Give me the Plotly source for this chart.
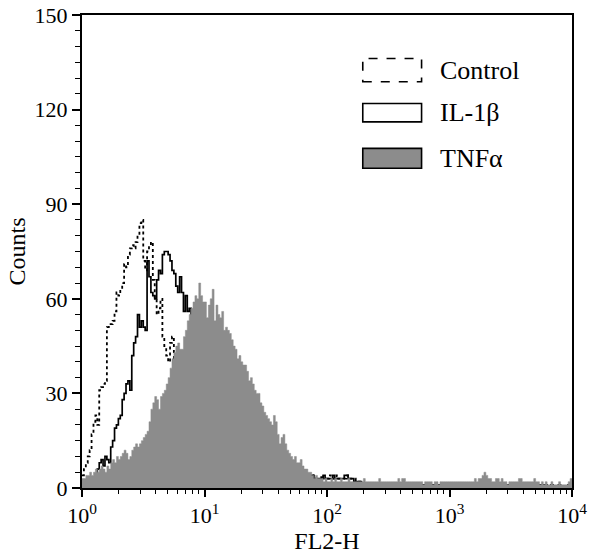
import numpy as np
import plotly.graph_objects as go

# FL2-H log channels (256 channels over 4 decades)
n_channels = 256
channels_per_decade = 64

control = [
    4, 6, 8, 10, 12, 17, 21, 23, 20, 31, 32, 33, 34, 51, 52, 52,
    53, 56, 62, 61, 63, 65, 71, 70, 74, 76, 77, 76, 78, 80, 84, 85,
    72, 69, 75, 77, 78, 66, 60, 55, 57, 60, 48, 45, 42, 40, 46, 48,
    38, 34, 30, 28, 26, 24, 22, 20, 19, 17, 16, 15, 14, 13, 12, 11,
    10, 10, 9, 9, 8, 8, 7, 7, 7, 6, 6, 6, 6, 5, 5, 5,
    5, 5, 4, 4, 4, 4, 4, 4, 4, 4, 4, 4, 4, 3, 3, 3,
    3, 3, 3, 3, 3, 3, 3, 3, 3, 3, 3, 3, 3, 3, 3, 3,
    3, 3, 3, 4, 3, 3, 4, 3, 3, 4, 3, 3, 3, 4, 3, 3,
    3, 4, 3, 3, 3, 4, 3, 3, 3, 3, 4, 3, 3, 3, 3, 2,
    2, 2, 2, 1, 1, 1, 1, 1, 1, 1, 1, 1, 1, 1, 1, 1,
    1, 1, 1, 0, 1, 1, 1, 1, 1, 1, 0, 1, 1, 1, 1, 1,
    1, 1, 0, 1, 1, 1, 1, 0, 1, 1, 0, 1, 1, 1, 1, 1,
    1, 1, 1, 1, 1, 1, 1, 1, 1, 1, 1, 1, 1, 1, 1, 1,
    1, 1, 1, 1, 1, 1, 1, 1, 1, 1, 1, 1, 1, 1, 0, 1,
    1, 1, 1, 1, 1, 1, 1, 1, 1, 1, 1, 1, 1, 1, 1, 0,
    1, 0, 1, 0, 0, 1, 0, 0, 0, 1, 0, 0, 0, 0, 1, 1,
]

il1b = [
    0, 0, 1, 1, 2, 2, 3, 4, 6, 8, 9, 7, 10, 9, 8, 13,
    15, 19, 20, 22, 23, 28, 30, 33, 34, 31, 42, 46, 48, 55, 51, 53,
    51, 50, 72, 67, 62, 61, 60, 66, 69, 68, 74, 75, 75, 74, 72, 69,
    68, 64, 62, 67, 62, 56, 61, 56, 57, 52, 47, 42, 38, 34, 30, 27,
    24, 21, 19, 17, 15, 14, 12, 11, 10, 9, 9, 8, 8, 7, 7, 6,
    6, 6, 5, 5, 5, 5, 5, 5, 4, 4, 4, 4, 4, 4, 4, 4,
    4, 4, 4, 4, 4, 4, 4, 4, 4, 4, 4, 4, 4, 4, 4, 4,
    4, 4, 3, 3, 4, 3, 3, 3, 4, 3, 3, 3, 3, 3, 4, 3,
    3, 3, 3, 4, 3, 3, 3, 3, 3, 4, 4, 3, 3, 3, 2, 2,
    2, 2, 1, 1, 1, 1, 1, 1, 1, 1, 1, 1, 1, 1, 1, 1,
    1, 1, 1, 1, 0, 1, 1, 1, 1, 1, 1, 1, 0, 1, 1, 1,
    1, 1, 0, 1, 1, 1, 1, 0, 1, 1, 0, 1, 1, 1, 1, 1,
    1, 1, 1, 1, 1, 1, 1, 1, 1, 1, 1, 1, 1, 1, 1, 1,
    1, 1, 1, 1, 1, 1, 1, 1, 1, 1, 1, 1, 1, 1, 0, 1,
    1, 1, 1, 1, 1, 1, 1, 1, 1, 1, 1, 1, 1, 1, 1, 0,
    1, 0, 1, 0, 0, 1, 0, 0, 0, 1, 0, 0, 0, 0, 1, 1,
]

tnfa = [
    3, 3, 4, 4, 5, 4, 5, 6, 5, 6, 7, 6, 5, 7, 6, 8,
    9, 8, 10, 9, 10, 11, 12, 11, 9, 10, 12, 13, 14, 13, 14, 15,
    16, 17, 18, 21, 25, 27, 29, 28, 25, 29, 30, 31, 33, 35, 38, 41,
    43, 45, 46, 44, 44, 48, 50, 53, 55, 57, 59, 61, 60, 65, 61, 59,
    59, 54, 58, 60, 63, 53, 58, 55, 54, 56, 50, 51, 50, 49, 47, 45,
    44, 41, 42, 40, 39, 39, 37, 34, 35, 33, 31, 30, 30, 27, 26, 24,
    23, 22, 21, 20, 23, 21, 17, 14, 16, 17, 14, 12, 11, 10, 9, 10,
    8, 8, 9, 7, 6, 6, 5, 5, 4, 3, 4, 3, 3, 3, 2, 3,
    2, 2, 3, 2, 3, 2, 2, 3, 2, 2, 2, 3, 2, 2, 2, 2,
    2, 2, 2, 3, 2, 2, 2, 2, 2, 2, 2, 3, 2, 2, 2, 2,
    2, 2, 2, 2, 2, 3, 2, 3, 3, 2, 2, 2, 2, 2, 2, 2,
    2, 2, 1, 2, 2, 2, 2, 1, 2, 2, 1, 2, 2, 2, 2, 2,
    2, 2, 2, 2, 2, 2, 2, 2, 2, 2, 2, 2, 2, 3, 2, 3,
    3, 4, 5, 4, 3, 3, 2, 2, 3, 3, 2, 3, 2, 2, 1, 2,
    2, 2, 2, 2, 3, 3, 2, 2, 2, 2, 2, 2, 3, 2, 2, 1,
    2, 1, 2, 1, 1, 2, 1, 1, 1, 2, 1, 1, 1, 1, 2, 3,
]

decade_ticks = [1, 10, 100, 1000, 10000]
decade_labels = ['10<sup>0</sup>', '10<sup>1</sup>', '10<sup>2</sup>', '10<sup>3</sup>', '10<sup>4</sup>']
count_ticks = [0, 30, 60, 90, 120, 150]
legend_names = ['Control', 'IL-1β', 'TNFα']

# bin edges on the log scale, step histogram
edges = 10 ** (np.arange(n_channels + 1) / channels_per_decade)


def steps(values):
    return list(values) + [values[-1]]


serif = 'Liberation Serif, Times New Roman, serif'
grey = 'rgb(140,140,140)'

fig = go.Figure()
fig.add_trace(go.Scatter(x=edges, y=steps(control), mode='lines', line_shape='hv',
                         line=dict(color='black', width=1.8, dash='dot'), showlegend=False))
fig.add_trace(go.Scatter(x=edges, y=steps(il1b), mode='lines', line_shape='hv',
                         line=dict(color='black', width=1.7), showlegend=False))
fig.add_trace(go.Scatter(x=edges, y=steps(tnfa), mode='lines', line_shape='hv',
                         line=dict(color=grey, width=0.5), fill='tozeroy',
                         fillcolor=grey, showlegend=False))

# hand-drawn legend boxes like the original
box_x = [0.573, 0.693]
box_y = [(0.859, 0.908), (0.774, 0.813), (0.676, 0.718)]
box_style = [dict(dash='dash', fill='white'), dict(dash='solid', fill='white'), dict(dash='solid', fill=grey)]
for (y0, y1), st, name in zip(box_y, box_style, legend_names):
    fig.add_shape(type='rect', xref='paper', yref='paper', x0=box_x[0], x1=box_x[1], y0=y0, y1=y1,
                  line=dict(color='black', width=1.6, dash=st['dash']), fillcolor=st['fill'])
    fig.add_annotation(xref='paper', yref='paper', x=0.727, y=(y0 + y1) / 2, text=name,
                       showarrow=False, xanchor='left', yanchor='middle',
                       font=dict(family=serif, size=26, color='black'))

fig.update_layout(
    width=597, height=556,
    margin=dict(l=82, r=25, t=15, b=68, autoexpand=False),
    plot_bgcolor='white', paper_bgcolor='white',
    font=dict(family=serif, size=22, color='black'),
)
fig.update_xaxes(
    type='log', range=[0, 4], automargin=False,
    tickvals=decade_ticks, ticktext=decade_labels,
    ticks='outside', ticklen=7, tickwidth=1.5, tickcolor='black',
    minor=dict(ticks='outside', ticklen=4, tickwidth=1.2, tickcolor='black', dtick='D1', showgrid=False),
    showline=True, linecolor='black', linewidth=1.5, mirror=True,
    showgrid=False, zeroline=False,
    title=dict(text='FL2-H', font=dict(family=serif, size=24), standoff=0),
)
fig.update_yaxes(
    range=[0, 150], tickvals=count_ticks, automargin=False,
    ticks='outside', ticklen=8, tickwidth=1.5, tickcolor='black',
    minor=dict(ticks='outside', ticklen=5, tickwidth=1.2, tickcolor='black', dtick=5, showgrid=False),
    showline=True, linecolor='black', linewidth=2, mirror=True,
    showgrid=False, zeroline=False,
    title=dict(text='Counts', font=dict(family=serif, size=24), standoff=2),
)

# drop the page's default body margin so the figure sits at the window origin
fig.write_html('out.html', config={'displayModeBar': False},
               post_script="document.body.style.margin='0';")
